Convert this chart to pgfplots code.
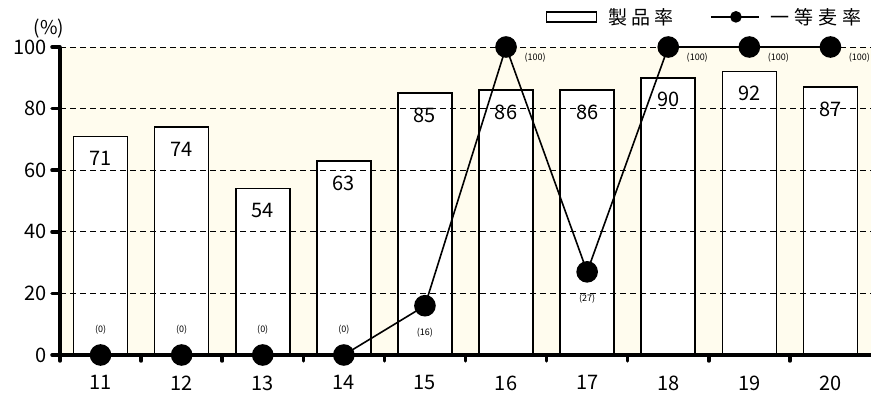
\documentclass[border=0pt]{standalone}
\usepackage{pgfplots}
\pgfplotsset{compat=1.18}
\usepackage{fontspec}
\setmainfont{Noto Sans CJK JP}
\definecolor{bg}{RGB}{255,252,238}
\begin{document}
\begin{tikzpicture}
\begin{axis}[
  at={(60pt,44pt)}, anchor=south west,
  scale only axis, width=811pt, height=308pt,
  xmin=10.5, xmax=20.5, ymin=0, ymax=100,
  axis x line=bottom, axis y line=left,
  axis line style={line width=4.5pt, -},
  set layers, axis on top,
  clip=false,
  axis background/.style={fill=bg},
  xtick={11,...,20},
  minor xtick={10.5,11.5,...,19.5},
  ytick={0,20,...,100},
  tick align=outside,
  major x tick style={draw=none},
  minor tick length=6pt,
  minor x tick style={line width=3.5pt, line cap=round, black},
  major tick length=8pt,
  y tick style={line width=3.5pt, line cap=round, black},
  ymajorgrids,
  grid style={black, line width=0.8pt, dash pattern=on 6pt off 4pt},
  tick label style={font=\fontsize{20}{22}\selectfont},
  xticklabel style={yshift=-9pt},
  yticklabel style={xshift=-2pt},
  /pgf/number format/assume math mode=true,
  legend columns=2,
  legend style={at={(0.995,1.14)}, anchor=north east, draw=none, fill=none,
    font=\fontsize{19}{21}\selectfont,
    /tikz/every odd column/.append style={column sep=9pt},
    /tikz/every even column/.append style={column sep=35pt}},
]
\addplot[ybar, bar width=54pt, bar shift=0pt, fill=white, draw=black, line width=1.6pt,
  legend image code/.code={\draw[line width=1.6pt, fill=white] (0pt,-5pt) rectangle (50pt,5pt);}]
  coordinates {(11,71) (12,74) (13,54) (14,63) (15,85) (16,86) (17,86) (18,90) (19,92) (20,87)};
\addlegendentry{製\hspace{4pt}品\hspace{4pt}率}
\addplot[on layer=axis foreground, black, line width=1.6pt, mark=*, mark size=10pt,
  legend image code/.code={\draw[line width=1.6pt] (0pt,0pt) -- (48pt,0pt); \fill (25pt,0pt) circle (5pt);}]
  coordinates {(11,0) (12,0) (13,0) (14,0) (15,16) (16,100) (17,27) (18,100) (19,100) (20,100)};
\addlegendentry{一\hspace{5pt}等\hspace{5pt}麦\hspace{5pt}率}
% bar value labels
\addplot[forget plot, on layer=axis foreground, draw=none, mark=none,
  nodes near coords, point meta=y,
  every node near coord/.style={font=\fontsize{20}{22}\selectfont, anchor=center, yshift=-22pt, fill=white, inner sep=1.5pt}]
  coordinates {(11,71) (12,74) (13,54) (14,63) (15,85) (16,86) (17,86) (18,90) (19,92) (20,87)};
% line labels above
\addplot[forget plot, on layer=axis foreground, draw=none, mark=none,
  nodes near coords={(\pgfmathprintnumber{\pgfplotspointmeta})}, point meta=y,
  every node near coord/.style={font=\fontsize{9}{10}\selectfont, anchor=center, yshift=25pt}]
  coordinates {(11,0) (12,0) (13,0) (14,0)};
% line labels below
\addplot[forget plot, on layer=axis foreground, draw=none, mark=none,
  nodes near coords={(\pgfmathprintnumber{\pgfplotspointmeta})}, point meta=y,
  every node near coord/.style={font=\fontsize{9}{10}\selectfont, anchor=center, yshift=-27pt}]
  coordinates {(15,16) (17,27)};
% line labels lower right
\addplot[forget plot, on layer=axis foreground, draw=none, mark=none,
  nodes near coords={(\pgfmathprintnumber{\pgfplotspointmeta})}, point meta=y,
  every node near coord/.style={font=\fontsize{9}{10}\selectfont, anchor=center, xshift=29pt, yshift=-11pt}]
  coordinates {(16,100) (18,100) (19,100) (20,100)};
\node[font=\fontsize{19}{21}\selectfont] at (rel axis cs:0,1) [xshift=-11pt, yshift=18pt] {(\%)};
\end{axis}
\pgfresetboundingbox
\useasboundingbox (0pt,0pt) rectangle (871pt,399pt);
\end{tikzpicture}
\end{document}
